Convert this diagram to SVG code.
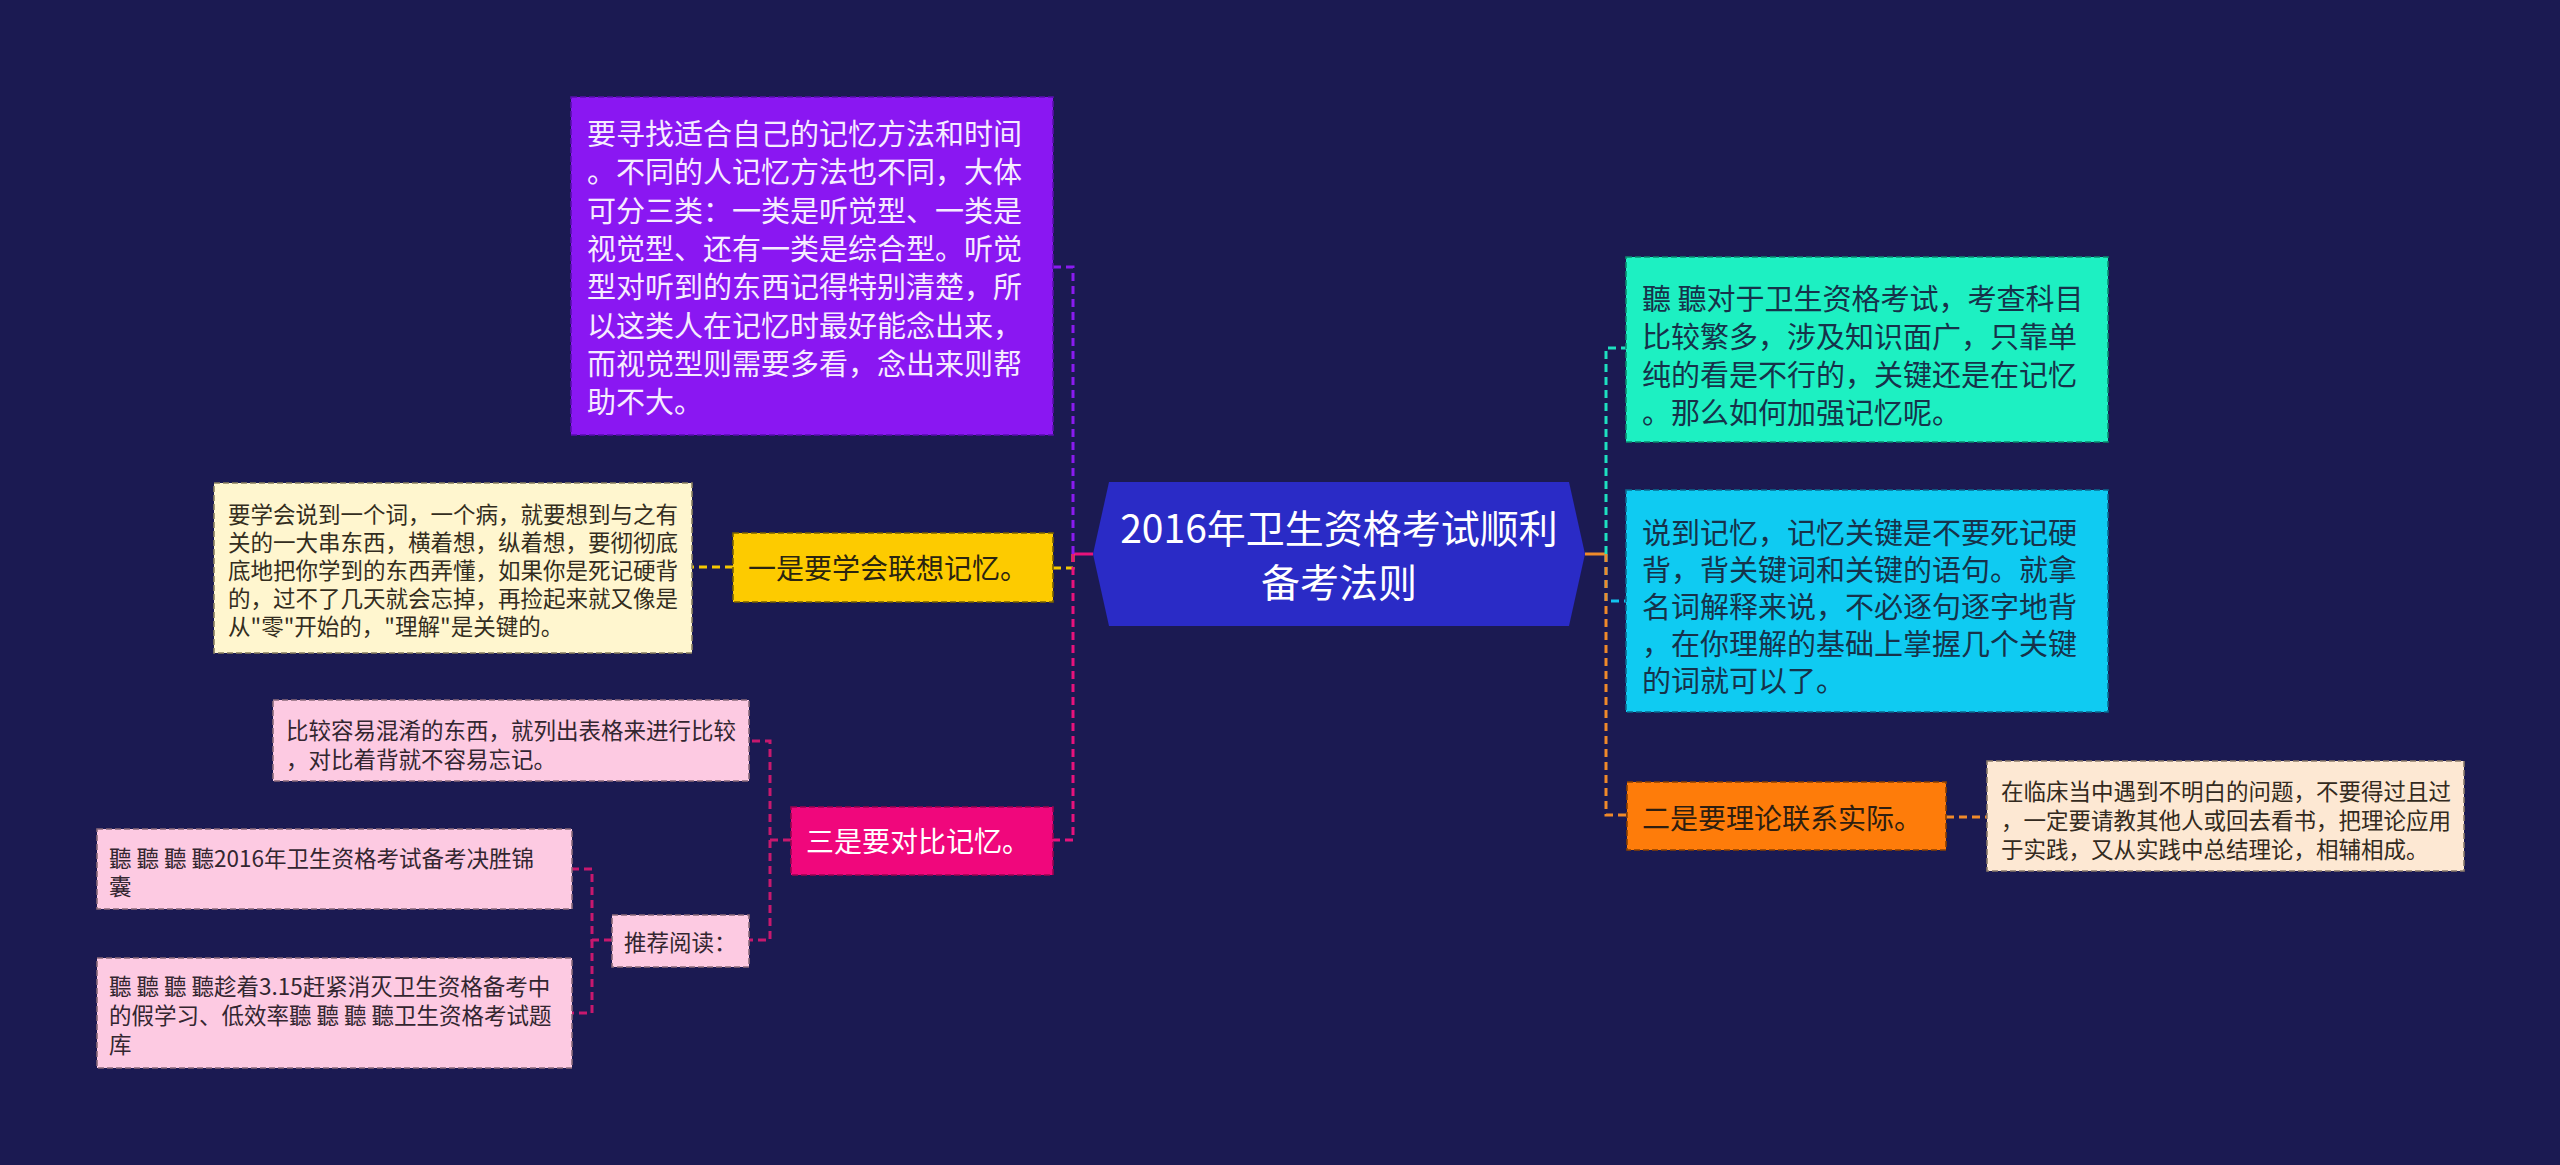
<svg xmlns="http://www.w3.org/2000/svg" width="2560" height="1165" viewBox="0 0 2560 1165">
<style>
text{font-family:"Noto Sans CJK SC","Noto Sans",sans-serif;dominant-baseline:central}
.box{stroke-width:1.6;stroke-dasharray:6 3}
.c{fill:none;stroke-width:3;stroke-dasharray:8 5}
.s{fill:none;stroke-width:3}
.t29{font-size:29px}
.t22{font-size:22.5px}
.t28{font-size:28px}
</style>
<rect width="2560" height="1165" fill="#1b1a52"/>
<g id="connectors">
  <path class="s" d="M1093,554 H1073" stroke="#e8127c"/>
  <path class="c" d="M1073,554 V267 H1053" stroke="#8a1bf0"/>
  <path class="c" d="M1073,554 V568 H1053" stroke="#f5c800"/>
  <path class="c" d="M1073,554 V840 H1053" stroke="#e8127c"/>
  <path class="c" d="M733,567 H692" stroke="#f5c800"/>
  <path class="c" d="M791,840 H770 V741 H749" stroke="#c8186e"/>
  <path class="c" d="M770,840 V940 H749" stroke="#c8186e"/>
  <path class="c" d="M612,940 H592 V869 H572" stroke="#c8186e"/>
  <path class="c" d="M592,940 V1013 H572" stroke="#c8186e"/>
  <path class="s" d="M1585,554 H1606" stroke="#f08a2a"/>
  <path class="c" d="M1606,554 V348 H1626" stroke="#1ee0c0"/>
  <path class="c" d="M1606,554 V601 H1626" stroke="#12c4ee"/>
  <path class="c" d="M1606,554 V815 H1627" stroke="#f08a2a"/>
  <path class="c" d="M1946,817 H1987" stroke="#f08a2a"/>
</g>
<g id="center">
  <polygon points="1093,554 1109,482 1569,482 1585,554 1569,626 1109,626" fill="#2a2bc6"/>
  <text x="1339" y="526" font-size="39" fill="#ffffff" text-anchor="middle">2016年卫生资格考试顺利</text>
  <text x="1339" y="580" font-size="39" fill="#ffffff" text-anchor="middle">备考法则</text>
</g>
<g id="node-purple">
  <rect class="box" x="571" y="97" width="482" height="338" fill="#8a17f2" stroke="#5a0eb0"/>
  <g class="t29" fill="#f6ecff">
    <text x="587" y="132">要寻找适合自己的记忆方法和时间</text>
    <text x="587" y="170">。不同的人记忆方法也不同，大体</text>
    <text x="587" y="209">可分三类：一类是听觉型、一类是</text>
    <text x="587" y="247">视觉型、还有一类是综合型。听觉</text>
    <text x="587" y="285">型对听到的东西记得特别清楚，所</text>
    <text x="587" y="324">以这类人在记忆时最好能念出来，</text>
    <text x="587" y="362">而视觉型则需要多看，念出来则帮</text>
    <text x="587" y="400">助不大。</text>
  </g>
</g>
<g id="node-yellow">
  <rect class="box" x="733" y="533" width="320" height="69" fill="#fdcb00" stroke="#7a6200"/>
  <text class="t28" x="748" y="567" fill="#2a2410">一是要学会联想记忆。</text>
</g>
<g id="node-yellow-detail">
  <rect class="box" x="214" y="483" width="478" height="170" fill="#fff6cf" stroke="#8a8060"/>
  <g class="t22" fill="#332d20">
    <text x="228" y="513">要学会说到一个词，一个病，就要想到与之有</text>
    <text x="228" y="541">关的一大串东西，横着想，纵着想，要彻彻底</text>
    <text x="228" y="569">底地把你学到的东西弄懂，如果你是死记硬背</text>
    <text x="228" y="597">的，过不了几天就会忘掉，再捡起来就又像是</text>
    <text x="228" y="625">从"零"开始的，"理解"是关键的。</text>
  </g>
</g>
<g id="node-pink">
  <rect class="box" x="791" y="807" width="262" height="68" fill="#f0077c" stroke="#9a0450"/>
  <text class="t28" x="806" y="840" fill="#ffffff">三是要对比记忆。</text>
</g>
<g id="node-pink-detail">
  <rect class="box" x="273" y="700" width="476" height="81" fill="#fdcae2" stroke="#8a6a7a"/>
  <g class="t22" fill="#332630">
    <text x="286" y="729">比较容易混淆的东西，就列出表格来进行比较</text>
    <text x="286" y="758">，对比着背就不容易忘记。</text>
  </g>
</g>
<g id="node-recommend">
  <rect class="box" x="612" y="915" width="137" height="52" fill="#fdcae2" stroke="#8a6a7a"/>
  <text class="t22" x="624" y="941" fill="#332630">推荐阅读：</text>
</g>
<g id="node-rec-1">
  <rect class="box" x="97" y="829" width="475" height="80" fill="#fdcae2" stroke="#8a6a7a"/>
  <g class="t22" fill="#332630">
    <text x="109" y="857">聽 聽 聽 聽2016年卫生资格考试备考决胜锦</text>
    <text x="109" y="885">囊</text>
  </g>
</g>
<g id="node-rec-2">
  <rect class="box" x="97" y="958" width="475" height="110" fill="#fdcae2" stroke="#8a6a7a"/>
  <g class="t22" fill="#332630">
    <text x="109" y="985">聽 聽 聽 聽趁着3.15赶紧消灭卫生资格备考中</text>
    <text x="109" y="1014">的假学习、低效率聽 聽 聽 聽卫生资格考试题</text>
    <text x="109" y="1043">库</text>
  </g>
</g>
<g id="node-teal">
  <rect class="box" x="1626" y="257" width="482" height="185" fill="#1df0c2" stroke="#0a8a70"/>
  <g class="t29" fill="#16324a">
    <text x="1642" y="297">聽 聽对于卫生资格考试，考查科目</text>
    <text x="1642" y="335">比较繁多，涉及知识面广，只靠单</text>
    <text x="1642" y="373">纯的看是不行的，关键还是在记忆</text>
    <text x="1642" y="411">。那么如何加强记忆呢。</text>
  </g>
</g>
<g id="node-cyan">
  <rect class="box" x="1626" y="490" width="482" height="222" fill="#0fcbf2" stroke="#0a6a90"/>
  <g class="t29" fill="#16324a">
    <text x="1642" y="531">说到记忆，记忆关键是不要死记硬</text>
    <text x="1642" y="568">背，背关键词和关键的语句。就拿</text>
    <text x="1642" y="605">名词解释来说，不必逐句逐字地背</text>
    <text x="1642" y="642">，在你理解的基础上掌握几个关键</text>
    <text x="1642" y="679">的词就可以了。</text>
  </g>
</g>
<g id="node-orange">
  <rect class="box" x="1627" y="782" width="319" height="68" fill="#fe7c0a" stroke="#8a4000"/>
  <text class="t28" x="1642" y="817" fill="#2e1e10">二是要理论联系实际。</text>
</g>
<g id="node-orange-detail">
  <rect class="box" x="1987" y="761" width="477" height="110" fill="#fde8d3" stroke="#8a7a6a"/>
  <g class="t22" fill="#332a20">
    <text x="2001" y="790">在临床当中遇到不明白的问题，不要得过且过</text>
    <text x="2001" y="819">，一定要请教其他人或回去看书，把理论应用</text>
    <text x="2001" y="848">于实践，又从实践中总结理论，相辅相成。</text>
  </g>
</g>
</svg>
